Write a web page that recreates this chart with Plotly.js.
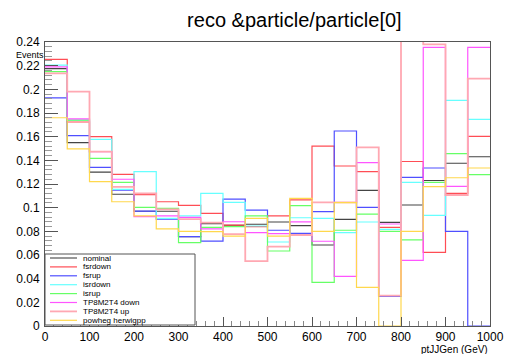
<!DOCTYPE html>
<html>
<head>
<meta charset="utf-8">
<script src="https://cdn.plot.ly/plotly-3.0.1.min.js"></script>
<style>
  html, body { margin: 0; padding: 0; background: #fff; }
  #chart { width: 505px; height: 354px; }
</style>
</head>
<body>
<div id="chart"></div>
<script>
// Bin edges of ptJJGen (GeV), 20 bins of 50 GeV
const binEdges = [0, 50, 100, 150, 200, 250, 300, 350, 400, 450, 500,
                  550, 600, 650, 700, 750, 800, 850, 900, 950, 1000];

// Normalised event fractions per bin for each sample
const nominal = [0.2175, 0.155, 0.130, 0.1113, 0.097, 0.097, 0.0755, 0.0865, 0.085, 0.086,
                 0.0879, 0.0848, 0.0684, 0.0901, 0.1146, 0.0876, 0.1022, 0.123, 0.1375, 0.143];
const fsrdown = [0.2253, 0.1724, 0.160, 0.1282, 0.111, 0.105, 0.102, 0.0952, 0.0853, 0.0839,
                 0.093, 0.1065, 0.152, 0.1352, 0.1304, 0.0834, 0.139, 0.0623, 0.112, 0.1603];
const fsrup = [0.1927, 0.1608, 0.134, 0.1148, 0.097, 0.0904, 0.0755, 0.0718, 0.1073, 0.098,
               0.0809, 0.0783, 0.0966, 0.1648, 0.1003, 0.025, 0.1256, 0.1335, 0.080, 0];
const isrdown = [0.2205, 0.174, 0.1577, 0.1155, 0.1304, 0.091, 0.093, 0.1121, 0.1045, 0.0845,
                 0.071, 0.0915, 0.091, 0.0789, 0.0879, 0.0817, 0.1214, 0.0935, 0.1907, 0.1746];
const isrup = [0.215, 0.174, 0.1417, 0.1214, 0.1003, 0.0994, 0.0704, 0.0834, 0.0839, 0.093,
               0.0634, 0.1017, 0.0369, 0.0809, 0.0946, 0.080, 0.0727, 0.1214, 0.1456, 0.128];
const tpDown = [0.219, 0.175, 0.1473, 0.124, 0.0924, 0.093, 0.0918, 0.082, 0.0881, 0.0789,
                0.078, 0.088, 0.0716, 0.042, 0.138, 0.0862, 0.0555, 0.2355, 0.118, 0.2355];
const tpUp = [0.2135, 0.198, 0.1473, 0.1175, 0.112, 0.0985, 0.0904, 0.0873, 0.0777, 0.0549,
              0.067, 0.0769, 0.1045, 0.1045, 0.151, 0.0256, 0.27, 0.238, 0.1107, 0.209];
const powheg = [0.176, 0.1496, 0.122, 0.105, 0.093, 0.082, 0.080, 0.0797, 0.076, 0.091,
                0.076, 0.1079, 0.080, 0.1042, 0.0327, 0, 0.080, 0.1177, 0.1253, 0.1335];

const seriesNames = ['nominal', 'fsrdown', 'fsrup', 'isrdown', 'isrup',
                     'TP8M2T4 down', 'TP8M2T4 up', 'powheg herwigpp'];
const seriesValues = [nominal, fsrdown, fsrup, isrdown, isrup, tpDown, tpUp, powheg];

// Axis tick labels
const xTickVals = [0, 100, 200, 300, 400, 500, 600, 700, 800, 900, 1000];
const yTickVals = [0, 0.02, 0.04, 0.06, 0.08, 0.1, 0.12, 0.14, 0.16, 0.18, 0.2, 0.22, 0.24];
const yTickText = ['0', '0.02', '0.04', '0.06', '0.08', '0.1', '0.12', '0.14', '0.16', '0.18', '0.2', '0.22', '0.24'];

const lineColors = ['#444444', '#ff4d55', '#4f4fff', '#66ffff', '#66ff66', '#ff55ff', '#ffa8b2', '#ffd84d'];
const lineWidths = [1.1, 1.2, 1.2, 1.2, 1.2, 1.2, 1.8, 1.2];

const FONT = 'Liberation Sans, Arial, Helvetica, sans-serif';

// Histogram outlines as steps over the bin edges
const traces = seriesValues.map((vals, i) => ({
  type: 'scatter',
  mode: 'lines',
  name: seriesNames[i],
  x: binEdges,
  y: vals.concat([vals[vals.length - 1]]),
  line: { shape: 'hv', color: lineColors[i], width: lineWidths[i] },
  showlegend: false,
  hoverinfo: 'skip'
}));

// Legend box drawn in paper coordinates of the plot area
const plotL = 45, plotR = 490, plotT = 42, plotB = 326;
const px = v => (v - plotL) / (plotR - plotL);
const py = v => (plotB - v) / (plotB - plotT);

const shapes = [{
  type: 'rect', xref: 'paper', yref: 'paper',
  x0: px(45), x1: px(195), y0: py(325), y1: py(254),
  line: { color: '#555', width: 1 }, fillcolor: '#fff', layer: 'above'
}];
const annotations = [];
seriesNames.forEach((name, i) => {
  const yy = 258 + 8.9 * i;
  shapes.push({
    type: 'line', xref: 'paper', yref: 'paper',
    x0: px(50), x1: px(77), y0: py(yy), y1: py(yy),
    line: { color: lineColors[i], width: lineWidths[i] }, layer: 'above'
  });
  annotations.push({
    xref: 'paper', yref: 'paper', x: px(81), y: py(yy),
    xanchor: 'left', yanchor: 'middle', showarrow: false,
    text: name, font: { family: FONT, size: 8, color: '#000' }
  });
});

annotations.push({
  xref: 'paper', yref: 'paper', x: px(490), y: py(349),
  xanchor: 'right', yanchor: 'middle', showarrow: false,
  text: 'ptJJGen (GeV)', font: { family: FONT, size: 10, color: '#000' }
});
annotations.push({
  xref: 'paper', yref: 'paper', x: px(46), y: py(54.5),
  xanchor: 'right', yanchor: 'middle', showarrow: false,
  text: 'Events', font: { family: FONT, size: 9, color: '#000' }
});

const layout = {
  width: 505, height: 354,
  margin: { l: plotL, r: 505 - plotR, t: plotT, b: 354 - plotB, pad: 0 },
  paper_bgcolor: '#fff', plot_bgcolor: '#fff',
  font: { family: FONT, color: '#000' },
  title: {
    text: 'reco &particle/particle[0]',
    x: 283 / 505, xanchor: 'center', xref: 'paper',
    y: 1 - 20 / 354, yanchor: 'middle', yref: 'container',
    font: { family: FONT, size: 20, color: '#000' }
  },
  xaxis: {
    range: [0, 1000], showgrid: false, zeroline: false,
    showline: true, mirror: true, linecolor: '#555', linewidth: 1,
    ticks: 'inside', ticklen: 9, tickwidth: 1, tickcolor: '#555',
    tickvals: xTickVals, ticktext: xTickVals.map(String),
    tickfont: { family: FONT, size: 12, color: '#000' },
    minor: { dtick: 20, ticks: 'inside', ticklen: 5, tickcolor: '#888', showgrid: false }
  },
  yaxis: {
    range: [0, 0.24], showgrid: false, zeroline: false,
    showline: true, mirror: true, linecolor: '#555', linewidth: 1,
    ticks: 'inside', ticklen: 13, tickwidth: 1, tickcolor: '#555',
    tickvals: yTickVals, ticktext: yTickText,
    tickfont: { family: FONT, size: 12, color: '#000' },
    ticklabelstandoff: 2,
    minor: { dtick: 0.004, ticks: 'inside', ticklen: 7, tickcolor: '#999', showgrid: false }
  },
  shapes: shapes,
  annotations: annotations,
  showlegend: false
};

Plotly.newPlot('chart', traces, layout, { staticPlot: true, displayModeBar: false });
</script>
</body>
</html>
